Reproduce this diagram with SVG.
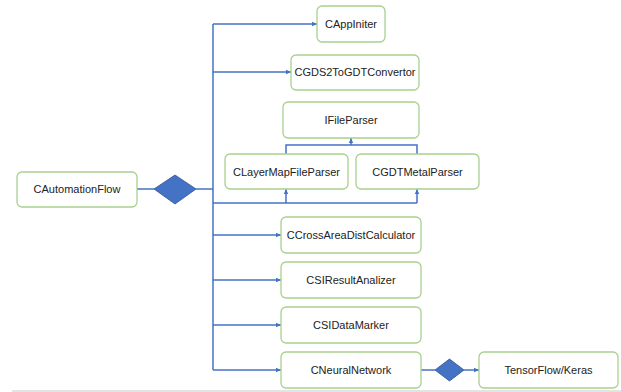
<svg xmlns="http://www.w3.org/2000/svg" width="621" height="392" viewBox="0 0 621 392">
<defs>
<style>
.box{fill:#fff;stroke:#a9d18e;stroke-width:1.3}
.lbl{font-family:"Liberation Sans",Arial,sans-serif;font-size:11px;fill:#222;text-anchor:middle}
.ln{fill:none;stroke:#4472c4;stroke-width:1.5}
.dia{fill:#4472c4;stroke:#2f528f;stroke-width:0.8}
</style>
<marker id="ah" markerWidth="6" markerHeight="6" refX="5" refY="3" orient="auto" markerUnits="userSpaceOnUse">
<path d="M0,0.8 L5,3 L0,5.2 Z" fill="#4472c4"/>
</marker>
</defs>
<rect width="621" height="392" fill="#fff"/>
<line x1="12" y1="391" x2="621" y2="391" stroke="#c8c8c8" stroke-width="1"/>
<g id="connectors">
<path class="ln" d="M137,189 H154"/>
<path class="ln" d="M196,189 H213"/>
<path class="ln" d="M213,24 V370"/>
<path class="ln" d="M213,24 H317" marker-end="url(#ah)"/>
<path class="ln" d="M213,72 H291" marker-end="url(#ah)"/>
<path class="ln" d="M213,203 H417"/>
<path class="ln" d="M286,203 V189" marker-end="url(#ah)"/>
<path class="ln" d="M417,203 V189" marker-end="url(#ah)"/>
<path class="ln" d="M286,154 V145 H417 V154"/>
<path class="ln" d="M351,145 V138" marker-end="url(#ah)"/>
<path class="ln" d="M213,235 H281" marker-end="url(#ah)"/>
<path class="ln" d="M213,280 H281" marker-end="url(#ah)"/>
<path class="ln" d="M213,325 H281" marker-end="url(#ah)"/>
<path class="ln" d="M213,370 H281" marker-end="url(#ah)"/>
<path class="ln" d="M421,370 H435"/>
<path class="ln" d="M464,370 H479" marker-end="url(#ah)"/>
</g>
<g id="diamond1"><path class="dia" d="M154,189 L175,175 L196,189 L175,204 Z"/></g>
<g id="diamond2"><path class="dia" d="M435,370 L449.5,359 L464,370 L449.5,381 Z"/></g>
<g id="CAutomationFlow"><rect class="box" x="17" y="172" width="120" height="35" rx="5"/><text class="lbl" x="77" y="193">CAutomationFlow</text></g>
<g id="CAppIniter"><rect class="box" x="317" y="6" width="68" height="36" rx="5"/><text class="lbl" x="351" y="28">CAppIniter</text></g>
<g id="CGDS2ToGDTConvertor"><rect class="box" x="291" y="55" width="128" height="35" rx="5"/><text class="lbl" x="355" y="76">CGDS2ToGDTConvertor</text></g>
<g id="IFileParser"><rect class="box" x="283" y="102" width="136" height="36" rx="5"/><text class="lbl" x="351" y="124">IFileParser</text></g>
<g id="CLayerMapFileParser"><rect class="box" x="225" y="154" width="123" height="35" rx="5"/><text class="lbl" x="286.5" y="176">CLayerMapFileParser</text></g>
<g id="CGDTMetalParser"><rect class="box" x="356" y="154" width="123" height="35" rx="5"/><text class="lbl" x="417.5" y="176">CGDTMetalParser</text></g>
<g id="CCrossAreaDistCalculator"><rect class="box" x="281" y="217" width="140" height="36" rx="5"/><text class="lbl" x="351" y="239">CCrossAreaDistCalculator</text></g>
<g id="CSIResultAnalizer"><rect class="box" x="281" y="262" width="140" height="36" rx="5"/><text class="lbl" x="351" y="284">CSIResultAnalizer</text></g>
<g id="CSIDataMarker"><rect class="box" x="281" y="307" width="140" height="36" rx="5"/><text class="lbl" x="351" y="329">CSIDataMarker</text></g>
<g id="CNeuralNetwork"><rect class="box" x="281" y="352" width="140" height="36" rx="5"/><text class="lbl" x="351" y="374">CNeuralNetwork</text></g>
<g id="TensorFlowKeras"><rect class="box" x="479" y="352" width="139" height="36" rx="5"/><text class="lbl" x="548.5" y="374">TensorFlow/Keras</text></g>
</svg>
